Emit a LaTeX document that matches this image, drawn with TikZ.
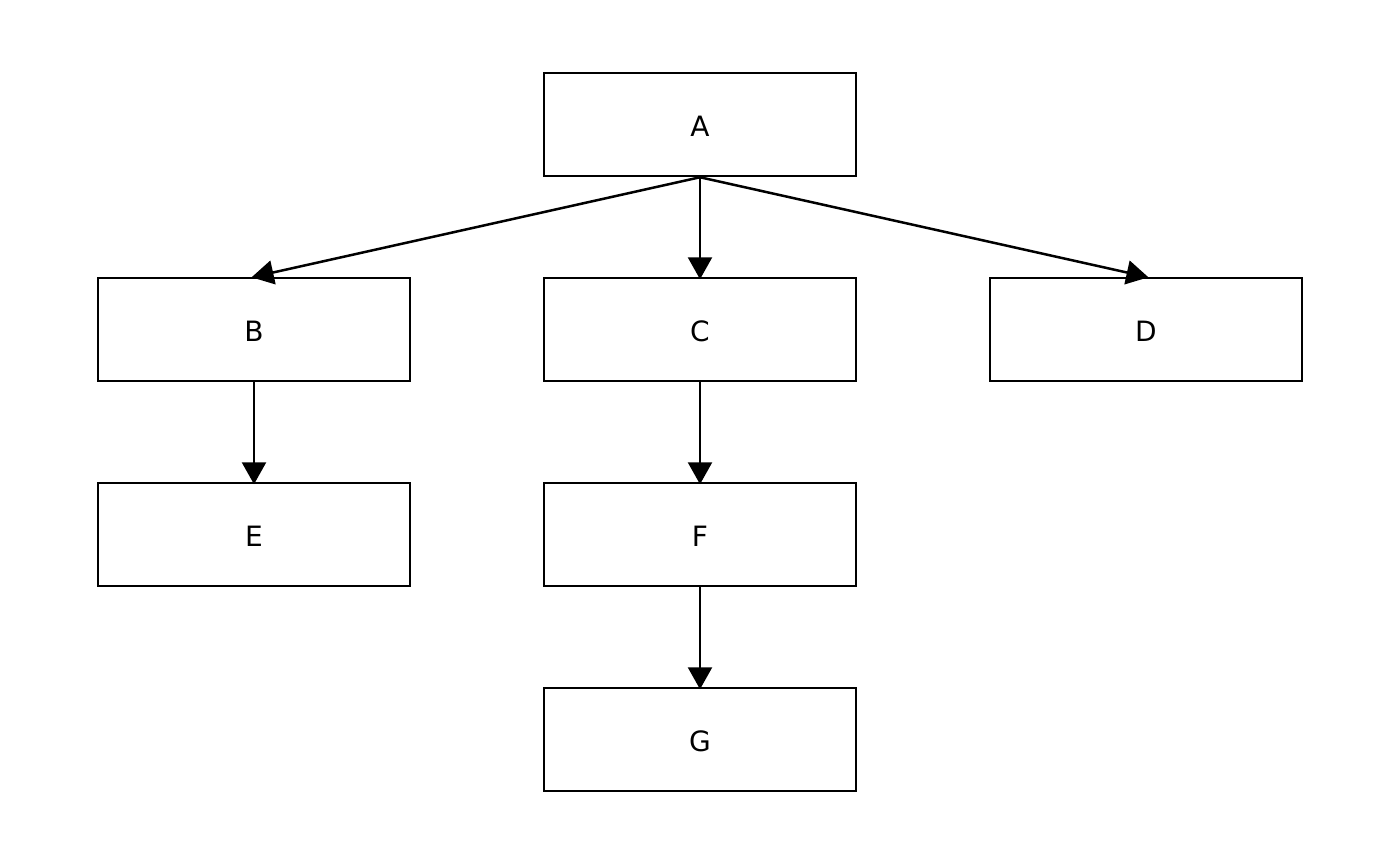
\documentclass[tikz,border=0pt]{standalone}
\usepackage{fontspec}
\setmainfont{DejaVu Sans}
\usetikzlibrary{arrows.meta}
\begin{document}
\begin{tikzpicture}[x=1pt,y=-1pt,
  box/.style={draw,line width=2.5pt,minimum width=312pt,minimum height=103pt,inner sep=0pt,font=\fontsize{28}{30}\selectfont},
  lbl/.style={font=\fontsize{28}{30}\selectfont,inner sep=0pt},
  conn/.style={line width=2.5pt,shorten >=-2.5pt,-{Triangle[length=22pt,width=24pt]}}]
\useasboundingbox (0,0) rectangle (1400,865);
\foreach \n/\x/\y in {A/700/124.5,B/254/329.5,C/700/329.5,D/1146/329.5,E/254/534.5,F/700/534.5,G/700/739.5}{
  \node[box] (\n) at (\x,\y) {};
  \node[lbl] (\n l) at (\x,\y+2) {\n};
}
\draw[conn] (A.south) -- (B.north);
\draw[conn] (A.south) -- (C.north);
\draw[conn] (A.south) -- (D.north);
\draw[conn] (B.south) -- (E.north);
\draw[conn] (C.south) -- (F.north);
\draw[conn] (F.south) -- (G.north);
\end{tikzpicture}
\end{document}
